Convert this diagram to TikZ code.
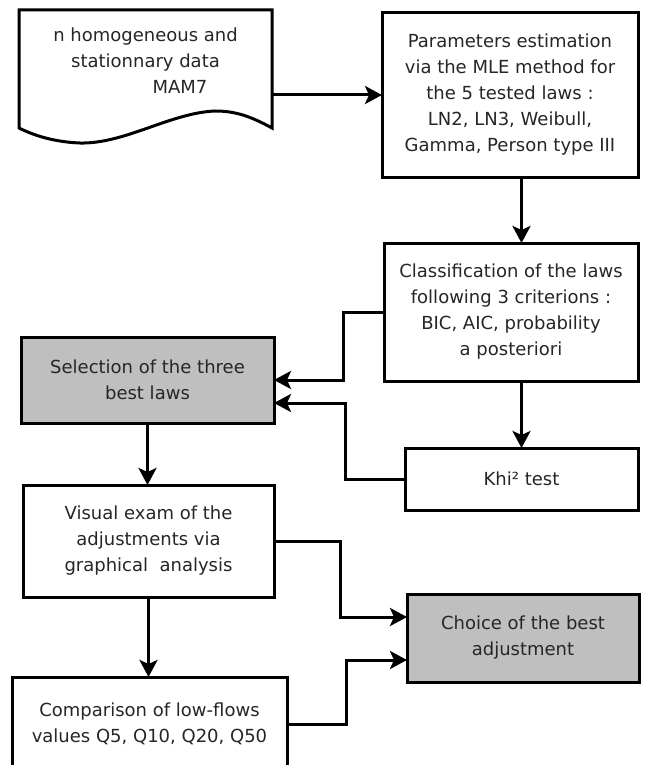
\documentclass[tikz,border=0pt]{standalone}
\usepackage{fontspec}
\setmainfont{DejaVu Sans}
\usetikzlibrary{arrows.meta}
\tikzset{
    box/.style = {rectangle, draw=black, line width=3pt, outer sep=0pt, inner sep=0pt, align=center, fill=white, text=black!85, font=\fontsize{18}{26}\selectfont},
    boxg/.style = {box, fill=gray!50},
    edgen/.style = {-{Stealth[length=17pt,width=18pt,inset=4pt]}, line width=3pt},
}

\begin{document}
\begin{tikzpicture}[x=1pt,y=-1pt]
\useasboundingbox (0,0) rectangle (645,765);
\clip (0,0) rectangle (645,765);
% data sheet
\node[box, draw=none, fill=none, minimum width=253pt, minimum height=118pt] at (145.5,61) (data) {n homogeneous and\\stationnary data\\\hspace*{69pt}MAM7};
\draw[line width=3pt] (19,128) -- (19,10) -- (272,10) -- (272,128) .. controls (250,116) and (235,111) .. (215,111) .. controls (170,113) and (125,144) .. (80,143) .. controls (55,142) and (35,136) .. (19,128) -- cycle;
%
\node[box, minimum width=256pt, minimum height=164pt] at (510,95) (params) {Parameters estimation\\via the MLE method for\\the 5 tested laws :\\LN2, LN3, Weibull,\\Gamma, Person type III};
\node[box, minimum width=254pt, minimum height=138pt] at (511,312) (classif) {Classification of the laws\\following 3 criterions :\\BIC, AIC, probability\\a posteriori};
\node[boxg, minimum width=253pt, minimum height=86pt] at (147.5,380) (sel) {Selection of the three\\best laws};
\node[box, minimum width=233pt, minimum height=62pt] at (521.5,479) (khi) {Khi² test};
\node[box, minimum width=251pt, minimum height=112pt] at (148.5,541) (vis) {Visual exam of the\\adjustments via\\graphical\ \ analysis};
\node[boxg, minimum width=232pt, minimum height=88pt] at (523,638) (choice) {Choice of the best\\adjustment};
\node[box, minimum width=275pt, minimum height=94pt] at (149.5,724) (comp) {Comparison of low-flows\\values Q5, Q10, Q20, Q50};
%
\draw[edgen] (data.east |- params.west) -- (params.west);
\draw[edgen] (params.south -| khi.north) -- (classif.north -| khi.north);
\draw[edgen] (classif.west) -- ++(-41,0) |- (sel.east);
\draw[edgen] (classif.south -| khi.north) -- (khi.north);
\draw[edgen] (khi.west) -- ++(-60,0) |- ([yshift=-23pt]sel.east);
\draw[edgen] (sel.south) -- (sel.south |- vis.north);
\draw[edgen] (vis.east) -- ++(66,0) |- ([yshift=21pt]choice.west);
\draw[edgen] (vis.south) -- (vis.south |- comp.north);
\draw[edgen] (comp.east) -- ++(59,0) |- ([yshift=-22pt]choice.west);
\end{tikzpicture}
\end{document}
